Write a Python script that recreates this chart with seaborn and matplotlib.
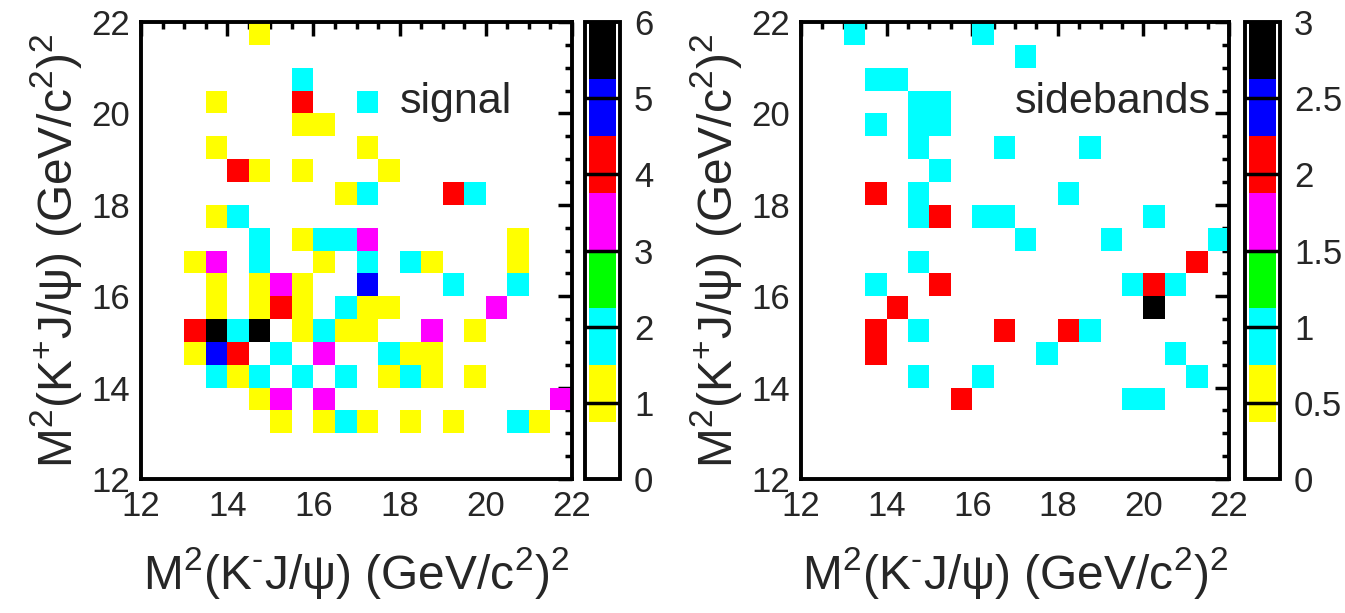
import numpy as np
import matplotlib
matplotlib.use("Agg")
import matplotlib.pyplot as plt
from matplotlib.colors import ListedColormap
from matplotlib.ticker import MultipleLocator
import seaborn as sns

# ---- signal region: bin centres (GeV^2) and counts ----
sig_x = [14.75,
         15.75,
         13.75, 15.75, 17.25,
         15.75, 16.25,
         13.75, 17.25,
         14.25, 14.75, 15.75, 17.75,
         16.75, 17.25, 19.25, 19.75,
         13.75, 14.25,
         14.75, 15.75, 16.25, 16.75, 17.25, 20.75,
         13.25, 13.75, 14.75, 16.25, 17.25, 18.25, 18.75, 20.75,
         13.75, 14.75, 15.25, 15.75, 17.25, 19.25, 20.75,
         13.75, 14.75, 15.25, 15.75, 16.75, 17.25, 17.75, 20.25,
         13.25, 13.75, 14.25, 14.75, 15.75, 16.25, 16.75, 17.25, 18.75, 19.75,
         13.25, 13.75, 14.25, 15.25, 16.25, 17.75, 18.25, 18.75,
         13.75, 14.25, 14.75, 15.75, 16.75, 17.75, 18.25, 18.75, 19.75,
         14.75, 15.25, 16.25, 21.75,
         15.25, 16.25, 16.75, 17.25, 18.25, 19.25, 20.75, 21.25]
sig_y = [21.75,
         20.75,
         20.25, 20.25, 20.25,
         19.75, 19.75,
         19.25, 19.25,
         18.75, 18.75, 18.75, 18.75,
         18.25, 18.25, 18.25, 18.25,
         17.75, 17.75,
         17.25, 17.25, 17.25, 17.25, 17.25, 17.25,
         16.75, 16.75, 16.75, 16.75, 16.75, 16.75, 16.75, 16.75,
         16.25, 16.25, 16.25, 16.25, 16.25, 16.25, 16.25,
         15.75, 15.75, 15.75, 15.75, 15.75, 15.75, 15.75, 15.75,
         15.25, 15.25, 15.25, 15.25, 15.25, 15.25, 15.25, 15.25, 15.25, 15.25,
         14.75, 14.75, 14.75, 14.75, 14.75, 14.75, 14.75, 14.75,
         14.25, 14.25, 14.25, 14.25, 14.25, 14.25, 14.25, 14.25, 14.25,
         13.75, 13.75, 13.75, 13.75,
         13.25, 13.25, 13.25, 13.25, 13.25, 13.25, 13.25, 13.25]
sig_n = [1,
         2,
         1, 4, 2,
         1, 1,
         1, 1,
         4, 1, 1, 1,
         1, 2, 4, 2,
         1, 2,
         2, 1, 2, 2, 3, 1,
         1, 3, 2, 1, 2, 2, 1, 1,
         1, 1, 3, 1, 5, 2, 2,
         1, 1, 4, 1, 2, 1, 1, 3,
         4, 6, 2, 6, 1, 2, 1, 1, 3, 1,
         1, 5, 4, 2, 3, 2, 1, 1,
         2, 1, 2, 2, 2, 1, 2, 1, 1,
         1, 3, 3, 3,
         1, 1, 2, 1, 1, 1, 2, 1]

# ---- sidebands: bin centres and counts ----
sb_x = [13.25, 16.25,
        17.25,
        13.75, 14.25,
        14.75, 15.25,
        13.75, 14.75, 15.25,
        14.75, 16.75, 18.75,
        15.25,
        13.75, 14.75, 18.25,
        14.75, 15.25, 16.25, 16.75, 20.25,
        17.25, 19.25, 21.75,
        14.75, 21.25,
        13.75, 15.25, 19.75, 20.25, 20.75,
        14.25, 20.25,
        13.75, 14.75, 16.75, 18.25, 18.75,
        13.75, 17.75, 20.75,
        14.75, 16.25, 21.25,
        15.75, 19.75, 20.25]
sb_y = [21.75, 21.75,
        21.25,
        20.75, 20.75,
        20.25, 20.25,
        19.75, 19.75, 19.75,
        19.25, 19.25, 19.25,
        18.75,
        18.25, 18.25, 18.25,
        17.75, 17.75, 17.75, 17.75, 17.75,
        17.25, 17.25, 17.25,
        16.75, 16.75,
        16.25, 16.25, 16.25, 16.25, 16.25,
        15.75, 15.75,
        15.25, 15.25, 15.25, 15.25, 15.25,
        14.75, 14.75, 14.75,
        14.25, 14.25, 14.25,
        13.75, 13.75, 13.75]
sb_n = [1, 1,
        1,
        1, 1,
        1, 1,
        1, 1, 1,
        1, 1, 1,
        1,
        2, 1, 1,
        1, 2, 1, 1, 1,
        1, 1, 1,
        1, 2,
        1, 2, 1, 2, 1,
        2, 3,
        2, 1, 2, 2, 1,
        2, 1, 1,
        1, 1, 1,
        2, 1, 1]

axis_ticks = [12, 14, 16, 18, 20, 22]
sig_cticks = [0, 1, 2, 3, 4, 5, 6]
sig_clabels = ["0", "1", "2", "3", "4", "5", "6"]
sb_cticks = [0, 0.5, 1, 1.5, 2, 2.5, 3]
sb_clabels = ["0", "0.5", "1", "1.5", "2", "2.5", "3"]

palette = ["#ffffff", "#ffff00", "#00ffff", "#00ff00",
           "#ff00ff", "#ff0000", "#0000ff", "#000000"]

sns.set_theme(style="white")
plt.rcParams['font.family'] = ['Liberation Sans', 'DejaVu Sans']
plt.rcParams['mathtext.fontset'] = 'custom'
plt.rcParams['mathtext.rm'] = 'Liberation Sans'
plt.rcParams['mathtext.it'] = 'Liberation Sans:italic'
plt.rcParams['mathtext.default'] = 'regular'

W, H = 1345, 613
fig = plt.figure(figsize=(W / 100, H / 100), dpi=100)
fig.patch.set_facecolor("white")

def frac(x0, x1, ytop, ybot):
    return [x0 / W, 1 - ybot / H, (x1 - x0) / W, (ybot - ytop) / H]

ax1 = fig.add_axes(frac(141, 572, 22, 479))
cax1 = fig.add_axes(frac(585, 620, 22, 479))
ax2 = fig.add_axes(frac(801, 1229, 22, 479))
cax2 = fig.add_axes(frac(1245, 1280, 22, 479))

cmap = ListedColormap(palette)
FS = 25
TFS = 31
LFS = 34.5

xlab = "M$^{2}$(K$^{\u2010}$J/ψ) (GeV/c$^{2}$)$^{2}$"
ylab = "M$^{2}$(K$^{+}$J/ψ) (GeV/c$^{2}$)$^{2}$"

def panel(ax, cax, xs, ys, ns, vmax, cticks, clabels, tag, tagx):
    sns.histplot(x=xs, y=ys, weights=ns, bins=20,
                 binrange=((12, 22), (12, 22)), cmap=cmap,
                 vmin=0, vmax=vmax, cbar=True, cbar_ax=cax, ax=ax)
    ax.set_xlim(12, 22)
    ax.set_ylim(12, 22)
    ax.set_xticks(axis_ticks)
    ax.set_yticks(axis_ticks)
    ax.xaxis.set_minor_locator(MultipleLocator(0.5))
    ax.yaxis.set_minor_locator(MultipleLocator(0.5))
    ax.tick_params(which="major", direction="in", top=True, right=True,
                   length=10, width=2.5, color="black", labelsize=FS, pad=8)
    ax.tick_params(which="minor", direction="in", top=True, right=True,
                   length=4.8, width=2.5, color="black")
    for s in ax.spines.values():
        s.set_visible(True)
        s.set_linewidth(2.8)
        s.set_color("black")
    ax.set_xlabel(xlab, fontsize=LFS, labelpad=16)
    ax.set_ylabel(ylab, fontsize=LFS, labelpad=5)
    ax.text(tagx, 20.0, tag, fontsize=TFS, ha="left", va="baseline")

    cb = ax.collections[0].colorbar
    cb.set_ticks(cticks)
    cb.set_ticklabels(clabels)
    cax.tick_params(length=0, labelsize=FS, pad=10)
    cb.outline.set_linewidth(2.8)
    cb.outline.set_edgecolor("black")
    for t in cticks[1:-1]:
        cax.axhline(t, color="black", lw=2.5)
    cax.set_xlim(-0.17, 1.17)

panel(ax1, cax1, sig_x, sig_y, sig_n, 6, sig_cticks, sig_clabels, "signal", 18.0)
panel(ax2, cax2, sb_x, sb_y, sb_n, 3, sb_cticks, sb_clabels, "sidebands", 17.0)

fig.savefig("out.png", dpi=100)
